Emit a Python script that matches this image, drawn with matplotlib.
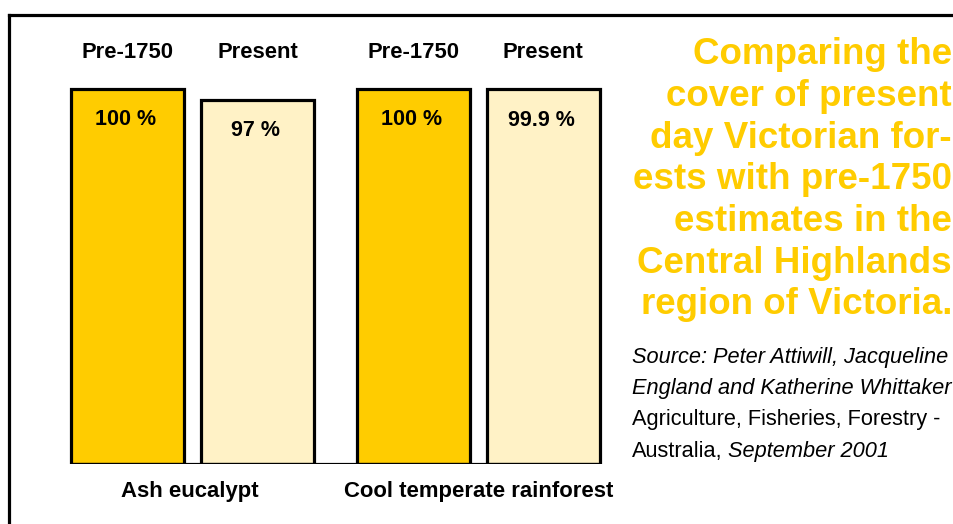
import matplotlib
matplotlib.use('Agg')
import matplotlib.pyplot as plt
from matplotlib.lines import Line2D
import numpy as np

# data
groups = ["Ash eucalypt", "Cool temperate rainforest"]
periods = ["Pre-1750", "Present"]
cover = [[100, 97], [100, 99.9]]
cover_labels = [["100 %", "97 %"], ["100 %", "99.9 %"]]
period_colors = ["#FFCC00", "#FFF2C6"]

title_text = ("Comparing the\ncover of present\nday Victorian for-\n"
              "ests with pre-1750\nestimates in the\nCentral Highlands\n"
              "region of Victoria.")

FONT = ['Liberation Sans', 'DejaVu Sans']
W, H = 954, 524

fig = plt.figure(figsize=(W / 100, H / 100), dpi=100)
fig.patch.set_facecolor('white')

# axes placed in pixel terms: baseline at y=464, 100 % at y=89
left_px, right_px = 60, 614
base_px, top_px = 464, 14
unit_px = 113.0          # one bar width in pixels
y_scale = (464 - 89) / 100.0
ax = fig.add_axes([left_px / W, (H - base_px) / H,
                   (right_px - left_px) / W, (base_px - top_px) / H])
ax.set_xlim(-(192.5 - left_px) / unit_px, (right_px - 192.5) / unit_px)
ax.set_ylim(0, (base_px - top_px) / y_scale)
ax.axis('off')

group_pos = np.array([0.0, 2.53])
offset = 0.575
bar_w = 1.0
all_x = []
for g, gx in enumerate(group_pos):
    for p in range(len(periods)):
        x = gx + (p - 0.5) * 2 * offset
        all_x.append(x)
        v = cover[g][p]
        ax.bar(x, v, width=bar_w, color=period_colors[p], edgecolor='black',
               linewidth=2.3, zorder=2)
        ax.text(x, 109.8, periods[p], ha='center', va='center',
                fontsize=15.8, fontweight='bold', family=FONT)
        ax.text(x - 0.02, v - 8.2, cover_labels[g][p], ha='center', va='center',
                fontsize=15.5, fontweight='bold', family=FONT, zorder=3)
    ax.text(gx - 0.02 * (1 - g), -7.4, groups[g], ha='center', va='center',
            fontsize=15.9, fontweight='bold', family=FONT, clip_on=False)

ax.hlines(0, min(all_x) - bar_w / 2, max(all_x) + bar_w / 2, color='black',
          linewidth=2.3, zorder=3)

# frame (left + top only)
fig.add_artist(Line2D([9.5 / W, 9.5 / W], [0, 1 - 14.5 / H], color='black',
                      linewidth=2.3, transform=fig.transFigure))
fig.add_artist(Line2D([9.5 / W, 1], [1 - 14.5 / H, 1 - 14.5 / H], color='black',
                      linewidth=2.3, transform=fig.transFigure))

# title
fig.text(952 / W, 1 - 37 / H, title_text, ha='right', va='top',
         multialignment='right', color='#FFCC00', fontsize=26.5,
         fontweight='bold', family=FONT, linespacing=1.25)

# source
src_x = 632 / W
src_size = 15.7
fig.text(src_x, 1 - 363 / H, "Source: Peter Attiwill, Jacqueline", ha='left',
         va='baseline', fontsize=src_size, style='italic', family=FONT)
fig.text(src_x, 1 - 394 / H, "England and Katherine Whittaker", ha='left',
         va='baseline', fontsize=src_size, style='italic', family=FONT)
fig.text(src_x, 1 - 425 / H, "Agriculture, Fisheries, Forestry -", ha='left',
         va='baseline', fontsize=src_size, family=FONT)
t4 = fig.text(src_x, 1 - 457 / H, "Australia,", ha='left', va='baseline',
              fontsize=src_size, family=FONT)
fig.canvas.draw()
bb = t4.get_window_extent()
fig.text((bb.x1 + 5) / W, 1 - 457 / H, "September 2001", ha='left',
         va='baseline', fontsize=src_size, style='italic', family=FONT)

fig.savefig('out.png', dpi=100, facecolor='white')
